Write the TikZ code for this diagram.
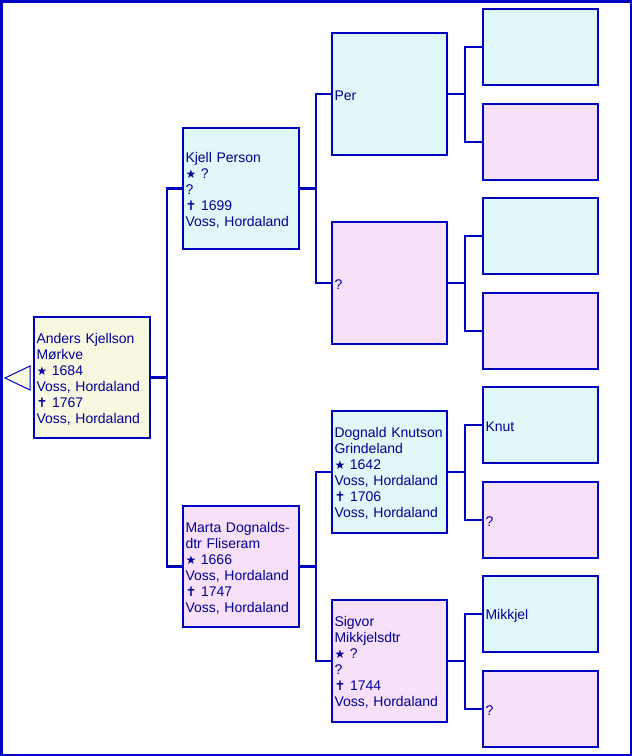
\documentclass[tikz,border=0pt]{standalone}
\usepackage{fontspec}
\setmainfont{Liberation Sans}
\newfontfamily\symfont{DejaVu Sans}
\definecolor{linec}{RGB}{0,0,192}
\definecolor{txtc}{RGB}{0,0,150}
\definecolor{cyanf}{RGB}{224,248,248}
\definecolor{pinkf}{RGB}{248,224,248}
\definecolor{yelf}{RGB}{248,248,224}
\newcommand{\bstar}{{\symfont\fontsize{12}{10}\selectfont ★}}
\newcommand{\dcross}{{\symfont\fontsize{13}{10}\selectfont ✝}}
\tikzset{
  person/.style={draw=linec, line width=2.2pt, text=txtc, font=\fontsize{14}{16}\selectfont,
    align=left, inner xsep=2.5pt, inner ysep=0pt, anchor=north west, outer sep=0pt,
    execute at begin node={\rule{0pt}{13pt}}},
  gA/.style={person, text width=111pt, minimum height=121pt},
  gB/.style={person, text width=110pt, minimum height=122pt},
  gC/.style={person, text width=110pt, minimum height=76pt},
  conn/.style={draw=linec, line width=2.2pt},
}
\begin{document}
\begin{tikzpicture}[x=1pt,y=-1pt]
\useasboundingbox (0,0) rectangle (632,756);
\draw[linec, line width=2.5pt] (1.25,1.25) rectangle (630.75,754.75);
% triangle
\draw[linec, fill=yelf, line width=1pt] (30,366) -- (5,378) -- (30,390) -- cycle;
% generation 0
\node[gA, fill=yelf] (root) at (34,317) {Anders Kjellson\\Mørkve\\\bstar\ 1684\\Voss, Hordaland\\\dcross\ 1767\\Voss, Hordaland};
% generation 1
\node[gA, fill=cyanf] (kjell) at (183,128) {Kjell Person\\\bstar\ ?\\?\\\dcross\ 1699\\Voss, Hordaland};
\node[gA, fill=pinkf] (marta) at (183,506) {Marta Dognalds-\\dtr Fliseram\\\bstar\ 1666\\Voss, Hordaland\\\dcross\ 1747\\Voss, Hordaland};
% generation 2
\node[gB, fill=cyanf] (per) at (332,33) {Per};
\node[gB, fill=pinkf] (q1) at (332,222) {?};
\node[gB, fill=cyanf] (dognald) at (332,411) {Dognald Knutson\\Grindeland\\\bstar\ 1642\\Voss, Hordaland\\\dcross\ 1706\\Voss, Hordaland};
\node[gB, fill=pinkf] (sigvor) at (332,600) {Sigvor\\Mikkjelsdtr\\\bstar\ ?\\?\\\dcross\ 1744\\Voss, Hordaland};
% generation 3
\node[gC, fill=cyanf] (a1) at (483,9) {};
\node[gC, fill=pinkf] (a2) at (483,104) {};
\node[gC, fill=cyanf] (a3) at (483,198) {};
\node[gC, fill=pinkf] (a4) at (483,293) {};
\node[gC, fill=cyanf] (a5) at (483,387) {Knut};
\node[gC, fill=pinkf] (a6) at (483,482) {?};
\node[gC, fill=cyanf] (a7) at (483,576) {Mikkjel};
\node[gC, fill=pinkf] (a8) at (483,671) {?};
% connectors
\draw[conn] (root.east) -- ++(17,0);
\draw[conn] (kjell.west) -- ++(-16,0) |- (marta.west);
\draw[conn] (kjell.east) -- ++(17,0);
\draw[conn] (per.west) -- ++(-16,0) |- (q1.west);
\draw[conn] (marta.east) -- ++(17,0);
\draw[conn] (dognald.west) -- ++(-16,0) |- (sigvor.west);
\draw[conn] (per.east) -- ++(18,0);
\draw[conn] (a1.west) -- ++(-18,0) |- (a2.west);
\draw[conn] (q1.east) -- ++(18,0);
\draw[conn] (a3.west) -- ++(-18,0) |- (a4.west);
\draw[conn] (dognald.east) -- ++(18,0);
\draw[conn] (a5.west) -- ++(-18,0) |- (a6.west);
\draw[conn] (sigvor.east) -- ++(18,0);
\draw[conn] (a7.west) -- ++(-18,0) |- (a8.west);
\end{tikzpicture}
\end{document}
